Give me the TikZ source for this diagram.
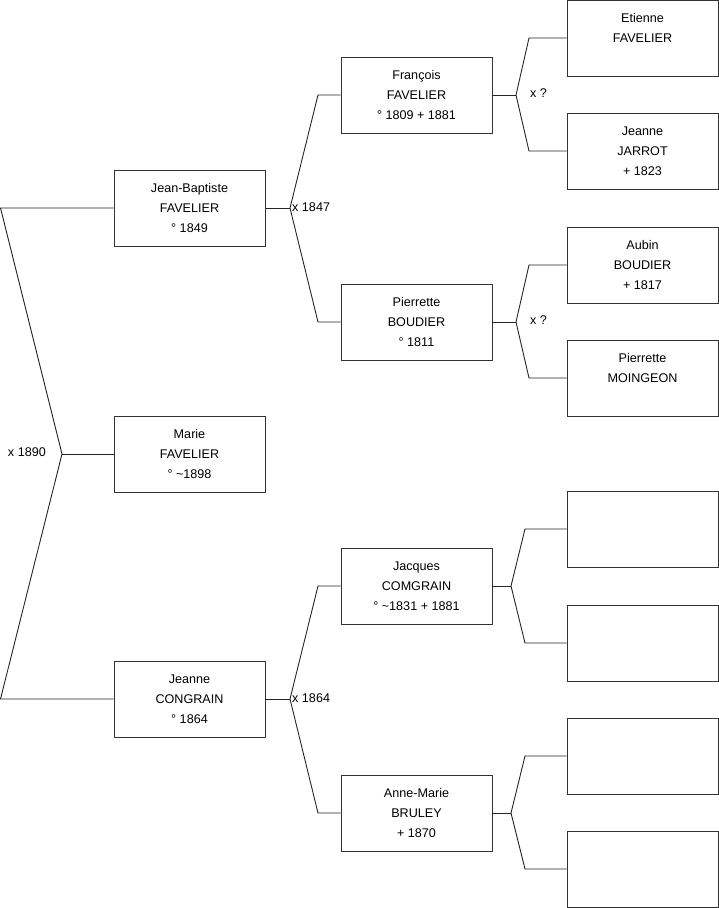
\documentclass[tikz,border=0pt]{standalone}
\usepackage{fontspec}
\setmainfont{Liberation Sans}
\begin{document}
\begin{tikzpicture}[x=1pt,y=-1pt,
  person/.style={draw=black!80, line width=0.9pt, minimum width=151pt, minimum height=76pt, inner sep=0pt, align=center, font=\fontsize{12.6}{20}\selectfont},
  link/.style={draw=black!85, line width=0.9pt},
  marr/.style={inner sep=0pt, font=\fontsize{12.6}{15}\selectfont}]
\useasboundingbox (0,0) rectangle (719,908);
% generation 1
\node[person] (jb) at (189.5,208) {Jean-Baptiste\\FAVELIER\\° 1849};
\node[person] (ma) at (189.5,454) {Marie\\FAVELIER\\° \textasciitilde1898};
\node[person] (jc) at (189.5,699) {Jeanne\\CONGRAIN\\° 1864};
% generation 2
\node[person] (fr) at (416.5,95) {François\\FAVELIER\\° 1809 + 1881};
\node[person] (pb) at (416.5,322) {Pierrette\\BOUDIER\\° 1811};
\node[person] (jq) at (416.5,586) {Jacques\\COMGRAIN\\° \textasciitilde1831 + 1881};
\node[person] (am) at (416.5,813) {Anne-Marie\\BRULEY\\+ 1870};
% generation 3
\node[person] (ef) at (642.5,38) {Etienne\\FAVELIER\\\mbox{}};
\node[person] (jj) at (642.5,151) {Jeanne\\JARROT\\+ 1823};
\node[person] (ab) at (642.5,265) {Aubin\\BOUDIER\\+ 1817};
\node[person] (pm) at (642.5,378) {Pierrette\\MOINGEON\\\mbox{}};
\node[person] (e1) at (642.5,529) {};
\node[person] (e2) at (642.5,643) {};
\node[person] (e3) at (642.5,756) {};
\node[person] (e4) at (642.5,869) {};
% root fork
\coordinate (r0) at (0.5,208);
\coordinate (rv) at (62,454);
\coordinate (r1) at (0.5,699);
\draw[link] (jb.west) -- (r0) -- (rv) -- (r1) -- (jc.west);
\draw[link] (rv) -- (ma.west);
\node[marr, anchor=east] (m1890) at (46,452) {x 1890};
% Jean-Baptiste fork
\coordinate (a0) at (290,208);
\coordinate (a1) at (318,95);
\coordinate (a2) at (318,322);
\draw[link] (jb.east) -- (a0);
\draw[link] (fr.west) -- (a1) -- (a0) -- (a2) -- (pb.west);
\node[marr, anchor=west] (m1847) at (292,207) {x 1847};
% Jeanne fork
\coordinate (b0) at (290,699);
\coordinate (b1) at (318,586);
\coordinate (b2) at (318,813);
\draw[link] (jc.east) -- (b0);
\draw[link] (jq.west) -- (b1) -- (b0) -- (b2) -- (am.west);
\node[marr, anchor=west] (m1864) at (292,698) {x 1864};
% François fork
\coordinate (c0) at (516,95);
\coordinate (c1) at (529,38);
\coordinate (c2) at (529,151);
\draw[link] (fr.east) -- (c0);
\draw[link] (ef.west) -- (c1) -- (c0) -- (c2) -- (jj.west);
\node[marr, anchor=west] (mq1) at (530,93) {x ?};
% Pierrette fork
\coordinate (d0) at (516,322);
\coordinate (d1) at (529,265);
\coordinate (d2) at (529,378);
\draw[link] (pb.east) -- (d0);
\draw[link] (ab.west) -- (d1) -- (d0) -- (d2) -- (pm.west);
\node[marr, anchor=west] (mq2) at (530,320) {x ?};
% Jacques fork
\coordinate (f0) at (511,586);
\coordinate (f1) at (525,529);
\coordinate (f2) at (525,643);
\draw[link] (jq.east) -- (f0);
\draw[link] (e1.west) -- (f1) -- (f0) -- (f2) -- (e2.west);
% Anne-Marie fork
\coordinate (g0) at (511,813);
\coordinate (g1) at (525,756);
\coordinate (g2) at (525,869);
\draw[link] (am.east) -- (g0);
\draw[link] (e3.west) -- (g1) -- (g0) -- (g2) -- (e4.west);
\end{tikzpicture}
\end{document}
